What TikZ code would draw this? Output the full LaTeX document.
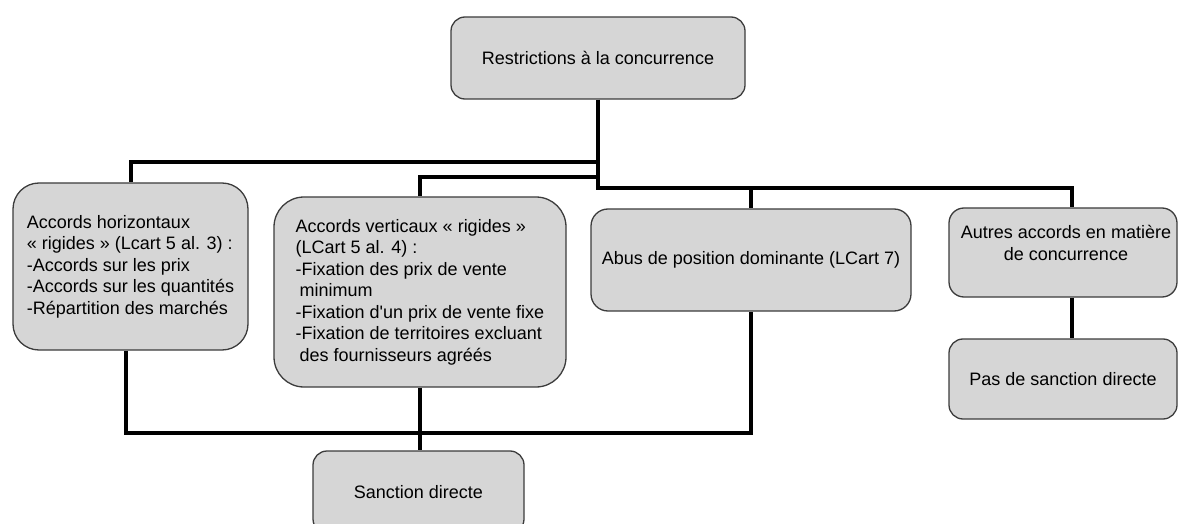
\documentclass[tikz,border=0pt]{standalone}
\usepackage{fontspec}
\setmainfont{Liberation Sans}[Ligatures=TeXOff]
\definecolor{boxgray}{RGB}{214,214,214}
\definecolor{boxline}{RGB}{60,60,60}
\begin{document}
\begin{tikzpicture}[x=1pt,y=-1pt,
  box/.style={draw=boxline, line width=1.3pt, fill=boxgray, inner sep=0pt,
    font=\fontsize{18}{21.5}\selectfont},
  lbl/.style={inner sep=0pt, align=center, font=\fontsize{18}{21.5}\selectfont},
  conn/.style={line width=4pt, line join=miter, black}]
\useasboundingbox (0,0) rectangle (1179,524);
\clip (0,0) rectangle (1179,524);

\node[box, rounded corners=14pt, minimum width=294pt, minimum height=82pt] (top) at (598,58) {Restrictions à la concurrence};

\node[box, rounded corners=26pt, minimum width=235pt, minimum height=167pt, align=left] (h) at (130.5,266.5)
  {Accords horizontaux\\«~rigides~» (Lcart 5 al. 3)~:\\-Accords sur les prix\\-Accords sur les quantités\\-Répartition des marchés};

\node[box, rounded corners=30pt, minimum width=292pt, minimum height=190pt, align=left] (v) at (420,292)
  {Accords verticaux «~rigides~»\\(LCart 5 al. 4)~:\\-Fixation des prix de vente\\\hspace*{4pt}minimum\\-Fixation d'un prix de vente fixe\\-Fixation de territoires excluant\\\hspace*{4pt}des fournisseurs agréés};

\node[box, rounded corners=17pt, minimum width=320pt, minimum height=102pt] (abus) at (751,260) {Abus de position dominante (LCart 7)};

\node[box, rounded corners=15pt, minimum width=228pt, minimum height=89pt] (autres) at (1063,252.5) {};
\node[lbl] (autreslbl) at (1066,243) {Autres accords en matière\\de concurrence};

\node[box, rounded corners=14pt, minimum width=228pt, minimum height=80pt] (pas) at (1063,379) {Pas de sanction directe};

\node[box, rounded corners=14pt, minimum width=211pt, minimum height=82pt] (sanc) at (418.5,492) {Sanction directe};

\coordinate (j1) at (598,162);
\coordinate (j2) at (598,177);
\coordinate (j3) at (598,188);
\coordinate (jb) at (420,433);

\draw[conn] (top.south) -- (j3) -| ([xshift=9pt]autres.north);
\draw[conn] (j3) -| (abus.north);
\draw[conn] (j1) -| (h.north);
\draw[conn] (j2) -| (v.north);
\draw[conn] ([xshift=9pt]autres.south) -- ([xshift=9pt]pas.north);
\draw[conn] ([xshift=-4.5pt]h.south) |- (jb) -| (abus.south);
\draw[conn] (v.south) -- (v.south |- sanc.north);
\end{tikzpicture}
\end{document}
